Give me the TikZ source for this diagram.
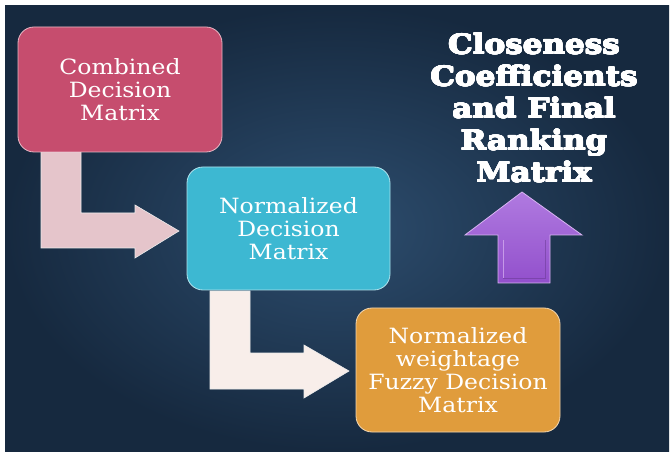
\documentclass[tikz,border=0pt]{standalone}
\usepackage{fontspec}
\usepackage{contour}
\contourlength{0.45pt}
\contournumber{16}
\setmainfont{DejaVu Serif}
\newfontfamily\boxfont[FakeStretch=1.12]{DejaVu Serif}
\newfontfamily\titlefont[FakeStretch=1.15]{DejaVu Serif}
\usetikzlibrary{shadings,calc}
\definecolor{bgin}{HTML}{2D4D6E}
\definecolor{bgout}{HTML}{16293F}
\definecolor{pinkbox}{HTML}{C64D6E}
\definecolor{cyanbox}{HTML}{3DB8D2}
\definecolor{orangebox}{HTML}{E09C3C}
\definecolor{arrowpink}{HTML}{E5C5CB}
\definecolor{arrowcream}{HTML}{F8EEEA}
\definecolor{purpletop}{HTML}{B07AE0}
\definecolor{purplebot}{HTML}{9250CC}
\definecolor{purpleedge}{HTML}{D8B4F2}
\tikzset{
  stepbox/.style={rounded corners=16pt, minimum width=#1, align=center,
    text=white, font=\boxfont\fontsize{21}{23}\selectfont, inner sep=0pt, line width=0.8pt},
  blockarrow/.style={draw=white!85!gray, line width=0.6pt},
}
\newcommand{\tline}[1]{\contour{white}{#1}}
\begin{document}
\begin{tikzpicture}[x=1pt,y=-1pt]
\useasboundingbox (0,0) rectangle (672,454);
\fill[white] (0,0) rectangle (672,454);
\shade[inner color=bgin, outer color=bgout] (5,6) rectangle (669,451);

% block arrow 1
\filldraw[fill=arrowpink, blockarrow] (41,152) -- (41,248) -- (135,248) -- (135,258) -- (179,231) -- (135,205) -- (135,213) -- (81,213) -- (81,152) -- cycle;
% block arrow 2
\filldraw[fill=arrowcream, blockarrow] (210,291) -- (210,389) -- (304,389) -- (304,398) -- (349,371) -- (304,345) -- (304,353) -- (250,353) -- (250,291) -- cycle;

% boxes
\node[stepbox=204pt, minimum height=125pt, fill=pinkbox, draw=pinkbox!40!white] (b1) at (120,89.5)
  {Combined\\Decision\\Matrix};
\node[stepbox=203pt, minimum height=123pt, fill=cyanbox, draw=cyanbox!40!white] (b2) at (288.5,228.5)
  {Normalized\\Decision\\Matrix};
\node[stepbox=204pt, minimum height=124pt, fill=orangebox, draw=orangebox!40!white] (b3) at (458,370)
  {Normalized\\weightage\\Fuzzy Decision\\Matrix};

% purple up arrow
\shade[top color=purpletop, bottom color=purplebot, draw=purpleedge, line width=0.8pt]
  (522,192) -- (582,235) -- (550,235) -- (550,283) -- (498,283) -- (498,235) -- (465,235) -- cycle;
\draw[purpleedge, line width=0.7pt, opacity=0.7] (503,240) -- (503,278);
\draw[purplebot!70!black, line width=0.7pt, opacity=0.5] (503,278) -- (545,278) -- (545,240);

% title
\node[align=center, text=white, font=\titlefont\fontsize{27}{32}\selectfont\bfseries] (title) at (534,108)
  {\tline{Closeness}\\\tline{Coefficients}\\\tline{and Final}\\\tline{Ranking}\\\tline{Matrix}};
\end{tikzpicture}
\end{document}
